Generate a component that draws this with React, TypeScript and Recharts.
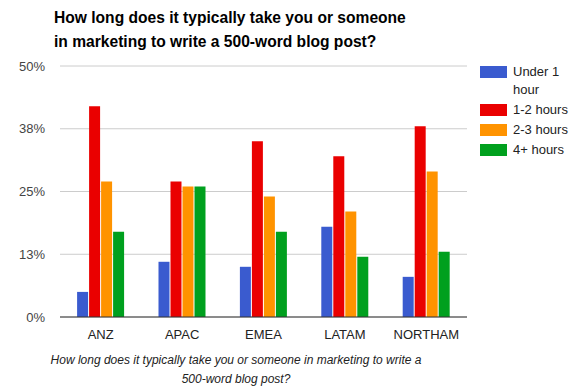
import React from 'react'
import { BarChart, Bar, XAxis, YAxis, CartesianGrid } from 'recharts'

const regions = ['ANZ', 'APAC', 'EMEA', 'LATAM', 'NORTHAM']
const under1 = [5, 11, 10, 18, 8]
const oneToTwo = [42, 27, 35, 32, 38]
const twoToThree = [27, 26, 24, 21, 29]
const fourPlus = [17, 26, 17, 12, 13]
const yTicks = [0, 12.5, 25, 37.5, 50]

const series = [
  { key: 'under1', name: 'Under 1 hour', color: '#3a5bcf' },
  { key: 'oneToTwo', name: '1-2 hours', color: '#ea0000' },
  { key: 'twoToThree', name: '2-3 hours', color: '#ff9300' },
  { key: 'fourPlus', name: '4+ hours', color: '#00a01e' },
]

const data = regions.map((region, i) => ({
  region,
  under1: under1[i],
  oneToTwo: oneToTwo[i],
  twoToThree: twoToThree[i],
  fourPlus: fourPlus[i],
}))

const font = 'Arial, "Liberation Sans", sans-serif'

export default function App() {
  return (
    <div style={{ position: 'absolute', left: 0, top: 0, width: 584, height: 390, background: '#fff', fontFamily: font }}>
      <div style={{ position: 'absolute', left: 54, top: 6, fontSize: 15.6, fontWeight: 'bold', lineHeight: '24px', color: '#000' }}>
        How long does it typically take you or someone<br />in marketing to write a 500-word blog post?
      </div>
      <BarChart
        width={584}
        height={390}
        data={data}
        margin={{ top: 66, right: 117, bottom: 43, left: 0 }}
        barCategoryGap="21%"
        barGap={1}
      >
        <CartesianGrid vertical={false} stroke="#cccccc" />
        <XAxis
          dataKey="region"
          tickLine={false}
          axisLine={{ stroke: '#333' }}
          tick={{ fill: '#222', fontSize: 13, fontFamily: font }}
          tickMargin={7}
        />
        <YAxis
          width={60}
          domain={[0, 50]}
          ticks={yTicks}
          tickFormatter={(v: number) => `${Math.round(v)}%`}
          axisLine={false}
          tickLine={false}
          tickSize={0}
          tickMargin={15}
          tick={{ fill: '#444', fontSize: 13, fontFamily: font }}
        />
        {series.map((s) => (
          <Bar key={s.key} dataKey={s.key} name={s.name} fill={s.color} isAnimationActive={false} />
        ))}
      </BarChart>
      <div style={{ position: 'absolute', left: 480, top: 63, fontSize: 13, color: '#222' }}>
        {series.map((s) => (
          <div key={s.key} style={{ display: 'flex', alignItems: 'flex-start', marginBottom: 2, width: 100 }}>
            <div style={{ width: 27, height: 12, background: s.color, flexShrink: 0, marginTop: 3 }} />
            <div style={{ marginLeft: 6, lineHeight: '18px', width: 56 }}>{s.name}</div>
          </div>
        ))}
      </div>
      <div style={{ position: 'absolute', left: 36, top: 351, width: 400, textAlign: 'center', fontStyle: 'italic', fontSize: 12, lineHeight: '19px', color: '#222' }}>
        How long does it typically take you or someone in marketing to write a<br />500-word blog post?
      </div>
    </div>
  )
}
